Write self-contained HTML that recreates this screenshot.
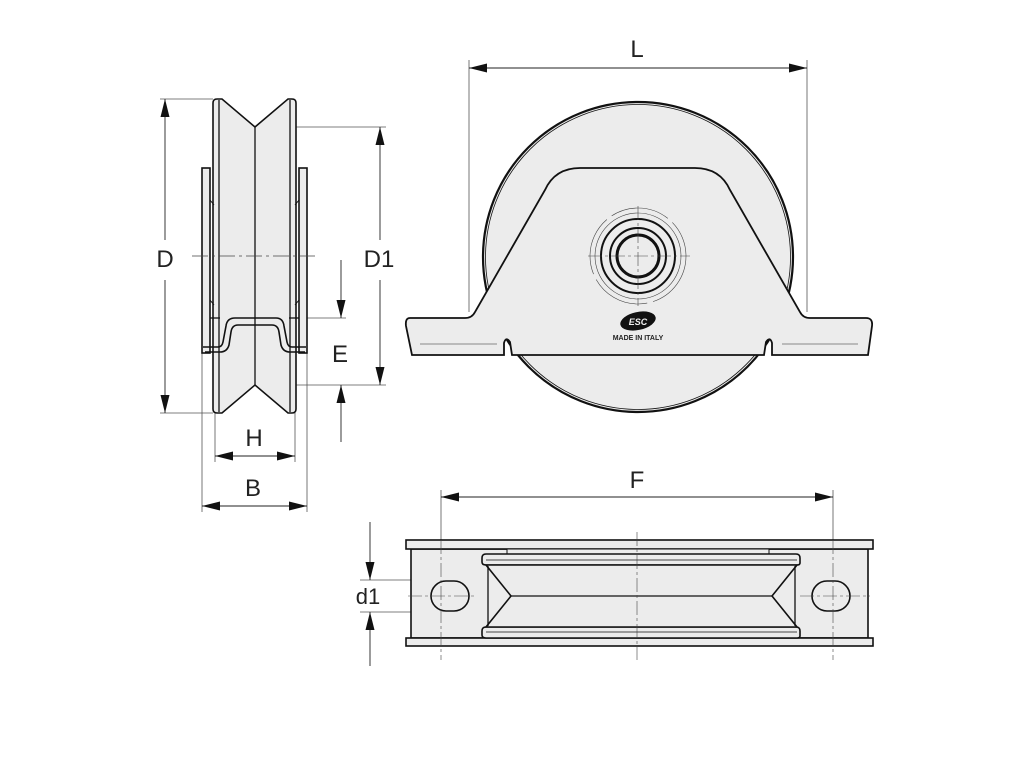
<!DOCTYPE html>
<html><head><meta charset="utf-8"><style>
html,body{margin:0;padding:0;background:#fff;width:1024px;height:768px;overflow:hidden}
svg{display:block}
text{font-family:"Liberation Sans",sans-serif;fill:#222}
</style></head><body>
<svg width="1024" height="768" viewBox="0 0 1024 768" xmlns="http://www.w3.org/2000/svg">
<defs>
<marker id="b" viewBox="0 0 20 10" refX="20" refY="5" markerWidth="24" markerHeight="9" markerUnits="userSpaceOnUse" orient="auto-start-reverse"><path d="M0,0 L20,5 L0,10 z" fill="#111"/></marker>
</defs>

<!-- ============ SIDE VIEW ============ -->
<g stroke="#555" stroke-width="0.8" fill="none">
 <line x1="160" y1="99" x2="213" y2="99"/>
 <line x1="160" y1="413" x2="213" y2="413"/>
 <line x1="255" y1="127" x2="386" y2="127"/>
 <line x1="255" y1="385" x2="386" y2="385"/>
 <line x1="285" y1="318" x2="346" y2="318"/>
 <line x1="202" y1="353" x2="202" y2="512"/>
 <line x1="307" y1="353" x2="307" y2="512"/>
 <line x1="215" y1="413" x2="215" y2="462"/>
 <line x1="295" y1="413" x2="295" y2="462"/>
</g>
<g stroke="#222" stroke-width="0.9">
 <line x1="165" y1="99" x2="165" y2="240" marker-start="url(#b)"/>
 <line x1="165" y1="280" x2="165" y2="413" marker-end="url(#b)"/>
 <line x1="380" y1="127" x2="380" y2="240" marker-start="url(#b)"/>
 <line x1="380" y1="280" x2="380" y2="385" marker-end="url(#b)"/>
 <line x1="341" y1="260" x2="341" y2="318" marker-end="url(#b)"/>
 <line x1="341" y1="442" x2="341" y2="385" marker-end="url(#b)"/>
 <line x1="215" y1="456" x2="295" y2="456" marker-start="url(#b)" marker-end="url(#b)"/>
 <line x1="202" y1="506" x2="307" y2="506" marker-start="url(#b)" marker-end="url(#b)"/>
</g>
<g stroke="#111" stroke-width="1.6" fill="#ececec">
 <rect x="202" y="168" width="8" height="185"/>
 <rect x="299" y="168" width="8" height="185"/>
 <path d="M213,103 Q213,99 217,99 L222,99 L255,127 L288,99 L292,99 Q296,99 296,103 L296,409 Q296,413 292,413 L288,413 L255,385 L222,413 L217,413 Q213,413 213,409 Z"/>
</g>
<g stroke="#111" stroke-width="1.3" fill="none">
 <line x1="219" y1="100" x2="219" y2="412"/>
 <line x1="290" y1="100" x2="290" y2="412"/>
 <line x1="255" y1="127" x2="255" y2="385"/>
 <path d="M210,318 L220,318"/><path d="M289,318 L299,318"/>
 <path d="M203,347 L218,347 Q222,347 223,342 L226,326 Q227,318 235,318 L276,318 Q283,318 284,326 L287,342 Q288,347 292,347 L306,347" stroke-width="1.6"/>
 <path d="M205,352 L220,352 Q227,352 229,345 L231,332 Q232,325 238,325 L272,325 Q278,325 279,332 L281,345 Q283,352 290,352 L305,352" stroke-width="1.6"/>
 <path d="M210,200 L214,205 M210,300 L214,305 M299,200 L295,205 M299,300 L295,305" stroke-width="1"/>
</g>
<g stroke="#444" stroke-width="0.7" stroke-dasharray="16,4,3,4">
 <line x1="192" y1="256" x2="315" y2="256"/>
</g>
<text x="165" y="267" font-size="24" text-anchor="middle">D</text>
<text x="379" y="267" font-size="24" text-anchor="middle">D1</text>
<text x="340" y="362" font-size="24" text-anchor="middle">E</text>
<text x="254" y="446" font-size="24" text-anchor="middle">H</text>
<text x="253" y="496" font-size="24" text-anchor="middle">B</text>

<!-- ============ FRONT VIEW ============ -->
<g stroke="#555" stroke-width="0.8">
 <line x1="469" y1="60" x2="469" y2="312"/>
 <line x1="807" y1="60" x2="807" y2="312"/>
</g>
<line x1="469" y1="68" x2="807" y2="68" stroke="#222" stroke-width="0.9" marker-start="url(#b)" marker-end="url(#b)"/>
<text x="637" y="57" font-size="24" text-anchor="middle">L</text>
<circle cx="638" cy="257" r="155" fill="#ececec" stroke="#111" stroke-width="2.2"/>
<circle cx="638" cy="257" r="152.5" fill="none" stroke="#111" stroke-width="0.8"/>
<path d="M410,318 L465,318 Q472,318 475,312 L545,190 Q555,168 580,168 L695,168 Q720,168 730,190 L800,312 Q803,318 810,318 L866,318 Q873,318 872,326 L868,355 L772,355 L772,343 Q770,336 766,342 L764,355 L512,355 L510,342 Q506,336 504,343 L504,355 L412,355 L406,326 Q405,318 410,318 Z" fill="#ececec" stroke="#111" stroke-width="1.8"/>
<line x1="420" y1="344" x2="497" y2="344" stroke="#666" stroke-width="0.7"/>
<line x1="782" y1="344" x2="858" y2="344" stroke="#666" stroke-width="0.7"/>
<g fill="none" stroke="#444">
 <circle cx="638" cy="256" r="48" stroke-width="0.6" stroke-dasharray="60,6"/>
 <circle cx="638" cy="256" r="43" stroke-width="0.6"/>
 <circle cx="638" cy="256" r="37" stroke="#111" stroke-width="2"/>
 <circle cx="638" cy="256" r="28" stroke="#111" stroke-width="2"/>
 <circle cx="638" cy="256" r="21" stroke="#111" stroke-width="3"/>
 <line x1="588" y1="256" x2="690" y2="256" stroke-width="0.6" stroke-dasharray="14,3,3,3"/>
 <line x1="638" y1="206" x2="638" y2="306" stroke-width="0.6" stroke-dasharray="14,3,3,3"/>
</g>
<ellipse cx="638" cy="321" rx="18" ry="9" fill="#111" transform="rotate(-12 638 321)"/>
<text x="638" y="325" font-size="9" font-weight="bold" text-anchor="middle" style="fill:#eee" font-style="italic">ESC</text>
<text x="638" y="340" font-size="7" font-weight="bold" text-anchor="middle">MADE IN ITALY</text>

<!-- ============ BOTTOM VIEW ============ -->
<g stroke="#555" stroke-width="0.8">
 <line x1="441" y1="490" x2="441" y2="540"/>
 <line x1="833" y1="490" x2="833" y2="540"/>
 <line x1="360" y1="580" x2="445" y2="580"/>
 <line x1="360" y1="612" x2="445" y2="612"/>
</g>
<line x1="441" y1="497" x2="833" y2="497" stroke="#222" stroke-width="0.9" marker-start="url(#b)" marker-end="url(#b)"/>
<text x="637" y="488" font-size="24" text-anchor="middle">F</text>
<line x1="370" y1="522" x2="370" y2="580" stroke="#222" stroke-width="0.9" marker-end="url(#b)"/>
<line x1="370" y1="666" x2="370" y2="612" stroke="#222" stroke-width="0.9" marker-end="url(#b)"/>
<text x="368" y="604" font-size="22" text-anchor="middle">d1</text>

<g stroke="#111" stroke-width="1.6" fill="#ececec">
 <rect x="411" y="549" width="457" height="89"/>
 <rect x="406" y="540" width="467" height="9"/>
 <rect x="406" y="638" width="467" height="8"/>
 <rect x="507" y="549" width="262" height="5" stroke-width="1"/>
 <rect x="507" y="633" width="262" height="5" stroke-width="1"/>
 <path d="M486,554 L796,554 Q800,554 800,558 L800,563 Q800,565 797,565 L486,565 Q482,565 482,562 L482,558 Q482,554 486,554 Z"/>
 <path d="M486,627 L796,627 Q800,627 800,631 L800,636 Q800,638 797,638 L486,638 Q482,638 482,635 L482,631 Q482,627 486,627 Z"/>
 <path d="M486,565 L797,565 L772,596 L797,627 L486,627 L511,596 Z"/>
 <rect x="431" y="581" width="38" height="30" rx="15"/>
 <rect x="812" y="581" width="38" height="30" rx="15"/>
</g>
<g stroke="#111" stroke-width="1.3" fill="none">
 <line x1="511" y1="596" x2="772" y2="596"/>
 <line x1="488" y1="566" x2="488" y2="626"/>
 <line x1="795" y1="566" x2="795" y2="626"/>
 <line x1="486" y1="560" x2="797" y2="560" stroke-width="0.8"/>
 <line x1="486" y1="632" x2="797" y2="632" stroke-width="0.8"/>
</g>
<g stroke="#444" stroke-width="0.6" stroke-dasharray="14,3,3,3">
 <line x1="637" y1="532" x2="637" y2="660"/>
 <line x1="441" y1="540" x2="441" y2="660"/>
 <line x1="833" y1="540" x2="833" y2="660"/>
 <line x1="408" y1="596" x2="475" y2="596"/>
 <line x1="800" y1="596" x2="870" y2="596"/>
</g>
</svg>
</body></html>
